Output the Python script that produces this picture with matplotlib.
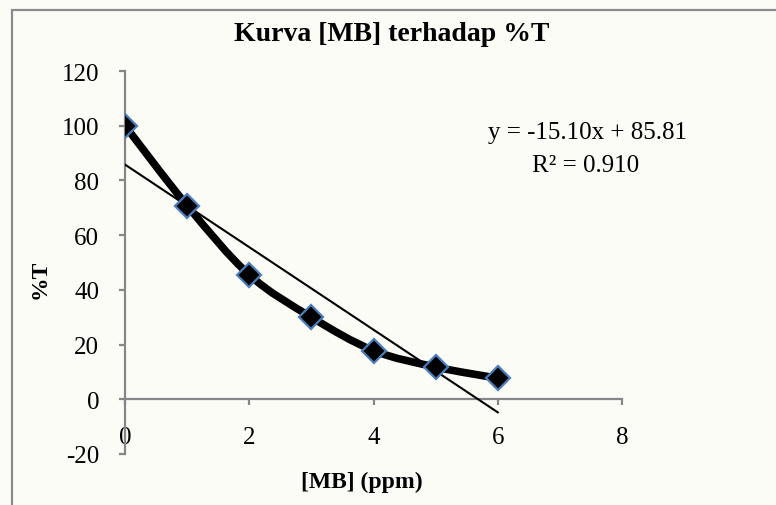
import numpy as np
import matplotlib.pyplot as plt
from matplotlib.path import Path
from matplotlib.patches import PathPatch, Rectangle

# --- data ---
conc = [0, 1, 2, 3, 4, 5, 6]
trans = [100, 70.8, 45.5, 30, 17.8, 11.8, 7.7]
x_ticks = [0, 2, 4, 6, 8]
y_ticks = [-20, 0, 20, 40, 60, 80, 100, 120]
eq_text = "y = -15.10x + 85.81"
r2_text = "R² = 0.910"

plt.rcParams['font.family'] = ['Liberation Serif', 'DejaVu Serif']
plt.rcParams['axes.unicode_minus'] = False

W, H = 776, 506
bg = '#fcfcf7'
fig = plt.figure(figsize=(W / 100, H / 100), dpi=100, facecolor=bg)
ax = fig.add_axes([125 / W, (H - 455) / H, 497 / W, 383 / H])
ax.set_facecolor(bg)

# chart area border (Excel style)
fig.patches.append(Rectangle((12.5 / W, -0.05), 1.0, (H - 11) / H + 0.05,
                             transform=fig.transFigure, fill=False,
                             edgecolor='#8a8a8a', linewidth=1.6))


def smooth_path(xs, ys, t=1 / 6):
    # Catmull-Rom style bezier segments, like Excel's smoothed line
    pts = np.column_stack([xs, ys]).astype(float)
    verts = [pts[0]]
    codes = [Path.MOVETO]
    n = len(pts)
    for i in range(n - 1):
        p0 = pts[i - 1] if i > 0 else pts[i]
        p1 = pts[i]
        p2 = pts[i + 1]
        p3 = pts[i + 2] if i + 2 < n else pts[i + 1]
        c1 = p1 + (p2 - p0) * t
        c2 = p2 - (p3 - p1) * t
        verts += [c1, c2, p2]
        codes += [Path.CURVE4] * 3
    return Path(verts, codes)


ax.add_patch(PathPatch(smooth_path(conc, trans), fill=False,
                       edgecolor='black', linewidth=5.5, zorder=3,
                       capstyle='round', joinstyle='round'))

# linear trendline
slope, icpt = np.polyfit(conc, trans, 1)
xl = np.array([conc[0], conc[-1]])
ax.plot(xl, slope * xl + icpt, color='black', linewidth=1.5, zorder=4)

ax.plot(conc, trans, linestyle='none', marker='D', markersize=12.5,
        markerfacecolor='black', markeredgecolor='#4a7ebb',
        markeredgewidth=1.6, zorder=5)

ax.set_xlim(0, 8)
ax.set_ylim(-20, 120)
ax.set_xticks(x_ticks)
ax.set_yticks(y_ticks)

for s in ['top', 'right']:
    ax.spines[s].set_visible(False)
ax.spines['bottom'].set_position(('data', 0))
for s in ['left', 'bottom']:
    ax.spines[s].set_color('#868686')
    ax.spines[s].set_linewidth(1.6)

ax.tick_params(axis='both', direction='out', length=4.5, width=1.6,
               color='#868686', labelsize=18)
ax.tick_params(axis='x', pad=15)
ax.tick_params(axis='y', pad=14)

fig.text(392 / W, 1 - 41 / H, "Kurva [MB] terhadap %T", ha='center',
         va='baseline', fontsize=20, fontweight='bold')
fig.text(362 / W, 1 - 482 / H, "[MB] (ppm)", ha='center', va='center',
         fontsize=17, fontweight='bold')
fig.text(40 / W, 1 - 279 / H, "%T", ha='center', va='center',
         fontsize=17, fontweight='bold', rotation=90)

fig.text(588 / W, 1 - 139 / H, eq_text, ha='center', va='baseline', fontsize=18)
fig.text(586 / W, 1 - 172 / H, r2_text, ha='center', va='baseline', fontsize=18)

fig.savefig('out.png', dpi=100, facecolor=bg)
